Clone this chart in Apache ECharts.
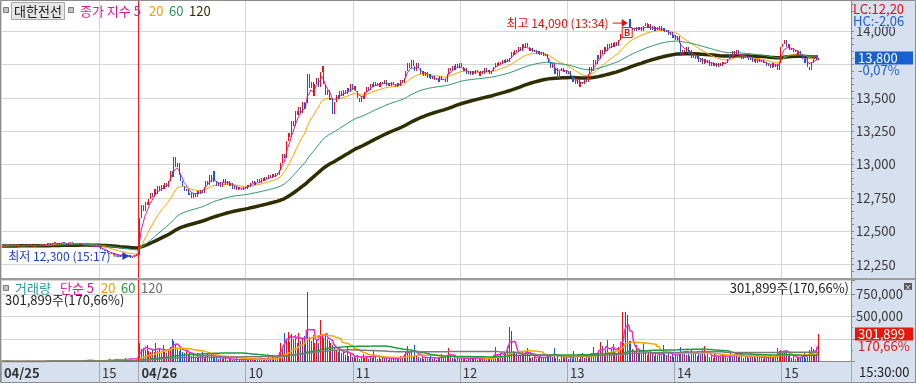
<!DOCTYPE html>
<html><head><meta charset="utf-8">
<script src="https://cdn.jsdelivr.net/npm/echarts@6/dist/echarts.min.js"></script>
<style>html,body{margin:0;padding:0;background:#fff}#c{width:916px;height:383px}</style>
</head><body><div id="c"></div>
<script>
// ---------------- DATA (1-minute bars) ----------------
const stockName = '대한전선';
const day1 = '04/25', day2 = '04/26';
// 04/25 14:05 .. 15:20, then 15:30 closing bar
const closes0425 = [
12390,12400,12390,12390,12400,12390,12400,12400,12390,12390,
12400,12390,12390,12400,12400,12390,12400,12390,12390,12400,
12390,12400,12400,12390,12400,12410,12410,12400,12410,12420,
12410,12400,12410,12410,12420,12410,12400,12410,12420,12410,
12400,12410,12410,12400,12410,12400,12390,12400,12390,12380,
12390,12390,12380,12390,12380,12370,12360,12350,12360,12340,
12330,12340,12320,12330,12320,12310,12320,12330,12310,12320,
12310,12320,12300,12310,12320,12330,12320];
// 04/26 09:00 .. 15:20
const closes0426 = [
12600,12700,12650,12720,12700,12740,12790,12760,12820,12780,
12840,12800,12850,12820,12860,12830,12880,12950,12910,13060,
12980,13010,12920,12880,12840,12800,12820,12770,12790,12750,
12790,12760,12800,12780,12810,12790,12830,12880,12850,12920,
12870,12950,12880,12840,12870,12830,12860,12890,12850,12880,
12840,12860,12820,12840,12810,12830,12820,12810,12830,12820,
12850,12830,12860,12880,12850,12870,12890,12860,12900,12880,
12910,12890,12920,12900,12930,12910,12940,12920,12960,13010,
13080,13050,13180,13240,13210,13330,13290,13400,13370,13430,
13390,13470,13420,13460,13680,13570,13620,13510,13600,13650,
13580,13690,13740,13600,13520,13560,13480,13500,13380,13470,
13520,13490,13550,13510,13560,13530,13570,13540,13600,13560,
13590,13550,13500,13470,13510,13490,13540,13580,13560,13600,
13580,13620,13590,13610,13580,13620,13600,13630,13590,13610,
13590,13620,13600,13580,13610,13590,13630,13610,13650,13700,
13760,13720,13780,13740,13700,13760,13720,13680,13700,13660,
13690,13650,13680,13640,13660,13630,13650,13620,13660,13630,
13640,13620,13680,13720,13700,13740,13710,13750,13720,13760,
13730,13700,13720,13680,13700,13670,13700,13680,13710,13690,
13660,13700,13680,13720,13690,13710,13680,13700,13730,13760,
13740,13770,13750,13780,13760,13790,13770,13800,13840,13820,
13860,13840,13880,13850,13900,13870,13910,13880,13850,13870,
13840,13860,13830,13850,13820,13840,13810,13830,13790,13760,
13720,13760,13680,13720,13650,13700,13720,13690,13710,13680,
13700,13660,13620,13650,13600,13640,13580,13620,13600,13640,
13620,13680,13730,13700,13780,13750,13820,13790,13860,13830,
13880,13850,13900,13870,13910,13880,13920,13890,13930,13980,
14010,13990,14020,14000,14090,14010,14020,14000,14030,14010,
14030,14000,14040,14060,14020,14050,14010,14040,14000,14030,
14010,14040,14000,14020,13990,14010,13970,13990,13950,13970,
13930,13960,13910,13820,13860,13840,13880,13830,13860,13800,
13830,13790,13820,13770,13800,13750,13790,13760,13780,13740,
13770,13740,13760,13730,13760,13740,13770,13750,13760,13790,
13820,13800,13850,13820,13860,13830,13810,13790,13820,13800,
13810,13780,13800,13770,13790,13760,13790,13770,13780,13760,
13770,13740,13750,13720,13760,13730,13750,13710,13760,13880,
13900,13930,13880,13900,13860,13870,13840,13860,13820,13850,
13830,13790,13760,13800,13730,13710,13760,13790,13810,13780,
13800];
const volumes0425 = [
2000,0,1000,3000,0,1000,2000,0,1000,1000,
0,2000,1000,0,3000,1000,0,2000,1000,0,
1000,3000,0,2000,1000,4000,8000,3000,5000,2000,
1000,3000,2000,6000,1000,2000,4000,1000,3000,2000,
1000,2000,3000,1000,5000,2000,12000,20000,18000,15000,
6000,3000,2000,5000,4000,6000,15000,10000,8000,12000,
25000,18000,10000,22000,30000,15000,20000,12000,25000,35000,
18000,28000,40000,22000,30000,30000,70000];
const volumes0426 = [
205000,140000,150000,130000,185000,120000,110000,130000,100000,205000,
120000,150000,90000,180000,110000,95000,140000,160000,250000,225000,
180000,150000,120000,170000,110000,90000,130000,80000,100000,60000,
75000,50000,90000,45000,60000,100000,40000,70000,80000,55000,
90000,60000,40000,50000,30000,70000,25000,45000,35000,20000,
40000,30000,15000,25000,35000,10000,20000,30000,15000,25000,
40000,20000,30000,15000,35000,25000,20000,40000,30000,20000,
35000,25000,45000,30000,50000,25000,40000,60000,110000,200000,
160000,315000,240000,330000,220000,310000,250000,290000,200000,320000,
230000,260000,280000,200000,772000,270000,230000,290000,210000,240000,
200000,460000,300000,260000,290000,250000,230000,200000,180000,150000,
130000,110000,140000,90000,100000,70000,160000,60000,80000,50000,
60000,40000,70000,30000,50000,80000,40000,60000,30000,50000,
40000,120000,50000,30000,45000,25000,60000,35000,40000,20000,
35000,50000,25000,40000,30000,45000,60000,40000,80000,110000,
175000,90000,120000,60000,180000,70000,50000,40000,60000,30000,
50000,25000,40000,60000,30000,45000,20000,35000,50000,80000,
40000,60000,70000,145000,50000,40000,60000,30000,45000,25000,
40000,30000,50000,20000,35000,45000,25000,40000,30000,20000,
35000,25000,45000,30000,20000,40000,50000,30000,60000,165000,
70000,50000,90000,60000,110000,80000,170000,385000,340000,120000,
90000,110000,70000,60000,100000,80000,120000,145000,60000,40000,
50000,70000,30000,45000,60000,35000,50000,40000,70000,60000,
80000,50000,145000,40000,60000,30000,50000,70000,40000,60000,
30000,50000,25000,115000,40000,55000,30000,60000,95000,40000,
50000,70000,45000,90000,160000,60000,80000,110000,215000,170000,
90000,130000,240000,100000,150000,190000,120000,90000,160000,130000,
550000,200000,555000,515000,230000,225000,140000,110000,180000,90000,
120000,80000,200000,110000,70000,100000,130000,80000,60000,100000,
70000,90000,60000,180000,80000,70000,110000,60000,90000,50000,
80000,60000,100000,165000,90000,120000,70000,110000,60000,140000,
80000,100000,60000,90000,70000,125000,175000,60000,80000,50000,
70000,40000,90000,55000,60000,45000,80000,50000,65000,40000,
60000,90000,50000,70000,100000,45000,60000,80000,40000,50000,
70000,40000,110000,50000,60000,35000,75000,45000,55000,30000,
60000,40000,50000,70000,35000,55000,45000,150000,120000,130000,
110000,95000,130000,80000,70000,40000,60000,30000,50000,45000,
35000,60000,110000,40000,50000,130000,165000,140000,60000,150000,
301899];
const priceTicks = [12250,12500,12750,13000,13250,13500,13750,14000];
const volumeTicks = [500000,750000];
const maPeriods = [5,20,60,120];
const lastChangeText = '-0,07%';
const volRatioText = '170,66%';
const clockText = '15:30:00';

// ---------------- BUILD ----------------
const FONT = '"Noto Sans CJK KR","Noto Sans",sans-serif';
const pad2 = n => (n < 10 ? '0' : '') + n;
const hhmm = t => pad2(Math.floor(t / 60)) + ':' + pad2(t % 60);
const categories = [];
closes0425.forEach((_, k) => {
  const t = k === closes0425.length - 1 ? 15 * 60 + 30 : 14 * 60 + 5 + k;
  categories.push(day1 + ' ' + hhmm(t));
});
closes0426.forEach((_, k) => categories.push(day2 + ' ' + hhmm(9 * 60 + k)));
const nData = categories.length;
for (let k = 0; k < 18; k++) categories.push('pad' + k);
const dayStartIdx = closes0425.length;

const closes = closes0425.concat(closes0426);
const volumes = volumes0425.concat(volumes0426);
// [index, open, close, low, high]
const candles = closes.map((c, i) => {
  const o = i === 0 ? c : closes[i - 1];
  return [i, o, c, Math.min(o, c), Math.max(o, c)];
});
const upFlags = candles.map(d => d[2] >= d[1]);
// price: exponential MA (종가 지수), volume: simple MA (단순)
function expAvg(arr, n) {
  const a = 2 / (n + 1); let e = arr[0];
  return arr.map((v, i) => { if (i > 0) e = e + a * (v - e); return +e.toFixed(2); });
}
function movingAvg(arr, n) {
  return arr.map((_, i) => {
    const s = Math.max(0, i - n + 1); let sum = 0;
    for (let j = s; j <= i; j++) sum += arr[j];
    return +(sum / (i - s + 1)).toFixed(2);
  });
}
const fmtNum = v => Math.round(v).toLocaleString('en-US');
const isMark = (index, value) => {
  if (index === 0) return true;
  return typeof value === 'string' && / \d\d:00$/.test(value);
};
const fmtX = (value, index) => {
  if (index === 0) return '{b|' + value.split(' ')[0] + '}';
  const p = value.split(' ');
  if (p.length < 2) return '';
  if (p[1] === '09:00') return '{b|' + p[0] + '}';
  return String(parseInt(p[1].slice(0, 2), 10));
};

const RED = '#f01010', BLUE = '#1458e0';
const priceMAColors = ['#e01fb0', '#ffa200', '#2f9a6a', '#2e2e00'];
const priceMAWidths = [1, 1, 1, 3.5];
const volMAColors = ['#e52fc8', '#f5a800', '#1f9a3a', '#7a7a7a'];

// crisp 1px candle: line from high to low at the band centre
function renderCandle(params, api) {
  const i = api.value(0), o = api.value(1), c = api.value(2), l = api.value(3), h = api.value(4);
  const x = Math.round(api.coord([i, c])[0]) + 0.5;
  const yh = Math.round(api.coord([i, h])[1]);
  const yl = Math.round(api.coord([i, l])[1]);
  return { type: 'line', silent: true, shape: { x1: x, y1: yh, x2: x, y2: Math.max(yl, yh + 1) },
    style: { stroke: c >= o ? RED : BLUE, lineWidth: 1 } };
}
function renderVolume(params, api) {
  const i = api.value(0), v = api.value(1);
  const x = Math.round(api.coord([i, v])[0]) + 0.5;
  const y0 = Math.round(api.coord([i, 0])[1]);
  const y1 = Math.round(api.coord([i, v])[1]);
  return { type: 'line', silent: true, shape: { x1: x, y1: Math.min(y1, y0 - 1), x2: x, y2: y0 },
    style: { stroke: upFlags[i] ? RED : BLUE, lineWidth: 1 } };
}

const series = [{
  type: 'custom', xAxisIndex: 0, yAxisIndex: 0, data: candles, renderItem: renderCandle, silent: true, z: 6,
  encode: { x: 0, y: [1, 2, 3, 4] },
  markLine: { silent: true, symbol: 'none', z: 1, label: { show: false }, animation: false,
    lineStyle: { color: '#d6d6d6', width: 1, type: 'solid' },
    data: priceTicks.map(v => ({ yAxis: v })) }
}];
maPeriods.forEach((p, k) => series.push({
  type: 'line', xAxisIndex: 0, yAxisIndex: 0, data: expAvg(closes, p), showSymbol: false, silent: true, z: k === 3 ? 3 : 4,
  lineStyle: { color: priceMAColors[k], width: priceMAWidths[k] }
}));
series.push({
  type: 'custom', xAxisIndex: 1, yAxisIndex: 1, silent: true, z: 2, renderItem: renderVolume,
  data: volumes.map((v, i) => [i, v]), encode: { x: 0, y: 1 }
});
maPeriods.forEach((p, k) => series.push({
  type: 'line', xAxisIndex: 1, yAxisIndex: 1, data: movingAvg(volumes, p), showSymbol: false, silent: true, step: 'middle', z: 3,
  lineStyle: { color: volMAColors[k], width: 1.5 }
}));

const option = {
  animation: false,
  backgroundColor: '#d6e0ee',
  textStyle: { fontFamily: FONT },
  grid: [
    { left: 1, right: 65, top: 0, height: 278, show: true, backgroundColor: '#fff', borderWidth: 0 },
    { left: 1, right: 65, top: 280, height: 81.5, show: true, backgroundColor: '#fff', borderWidth: 0 }
  ],
  xAxis: [
    { gridIndex: 0, type: 'category', data: categories, boundaryGap: true,
      axisLine: { show: false }, axisTick: { show: false }, axisLabel: { show: false },
      splitLine: { show: true, interval: isMark, lineStyle: { color: '#d6d6d6' } } },
    { gridIndex: 1, type: 'category', data: categories, boundaryGap: true,
      axisLine: { show: true, lineStyle: { color: '#8a8a8a' } },
      axisTick: { show: true, interval: isMark, length: 21, lineStyle: { color: '#a8a8a8' } },
      axisLabel: { show: true, interval: isMark, formatter: fmtX, align: 'left', margin: 5, color: '#333', fontSize: 13, fontFamily: FONT,
        padding: [0, 0, 0, 2], rich: { b: { fontWeight: 'bold', fontSize: 13, color: '#333', fontFamily: FONT } } },
      splitLine: { show: true, interval: isMark, lineStyle: { color: '#d6d6d6' } } }
  ],
  yAxis: [
    { gridIndex: 0, type: 'value', position: 'right', min: 12150, max: 14233, interval: 50,
      axisLine: { show: true, lineStyle: { color: '#8a8a8a' } },
      axisTick: { show: true, length: 3, lineStyle: { color: '#8a8a8a' } },
      axisLabel: { color: '#3a3a3a', fontSize: 13, margin: 5, fontFamily: FONT,
        formatter: v => (priceTicks.indexOf(v) >= 0 && v !== 13750) ? fmtNum(v) : '' },
      splitLine: { show: false } },
    { gridIndex: 1, type: 'value', position: 'right', min: 0, max: 905000, interval: 250000,
      axisLine: { show: true, lineStyle: { color: '#8a8a8a' } },
      axisTick: { show: true, length: 4, lineStyle: { color: '#8a8a8a' } },
      minorTick: { show: true, splitNumber: 2, length: 2, lineStyle: { color: '#8a8a8a' } },
      axisLabel: { color: '#3a3a3a', fontSize: 13, margin: 5, fontFamily: FONT,
        formatter: v => volumeTicks.indexOf(v) >= 0 ? fmtNum(v) : '' },
      splitLine: { show: true, lineStyle: { color: '#d6d6d6' } } }
  ],
  series: series
};

const chart = echarts.init(document.getElementById('c'));
chart.setOption(option);

// ---------------- OVERLAYS ----------------
const G = [];
const txt = (x, y, text, fill, o) => {
  o = o || {};
  G.push({ type: 'text', z: 100, silent: true, style: Object.assign({ x: x, y: y, text: text, fill: fill,
    font: (o.bold ? 'bold ' : '') + (o.size || 12) + 'px ' + FONT, textAlign: o.align || 'left', textVerticalAlign: 'middle' }, o.style || {}) });
};
const rect = (x, y, w, h, fill, stroke) => G.push({ type: 'rect', z: 99, silent: true, shape: { x: x, y: y, width: w, height: h },
  style: { fill: fill, stroke: stroke || null, lineWidth: 1 } });

// day separator (between last 04/25 bar and first 04/26 bar)
const dx = (chart.convertToPixel({ xAxisIndex: 0 }, dayStartIdx - 1) + chart.convertToPixel({ xAxisIndex: 0 }, dayStartIdx)) / 2;
const dxr = Math.floor(dx) + 0.5;
G.push({ type: 'line', z: 98, silent: true, shape: { x1: dxr, y1: 0, x2: dxr, y2: 278 }, style: { stroke: '#ff1a1a', lineWidth: 1 } });
G.push({ type: 'line', z: 98, silent: true, shape: { x1: dxr, y1: 280, x2: dxr, y2: 361 }, style: { stroke: '#ff1a1a', lineWidth: 1 } });

// frame + pane separator
rect(0, 278, 916, 2, '#9c9c9c');
G.push({ type: 'rect', z: 101, silent: true, shape: { x: 0.5, y: 0.5, width: 915, height: 382 }, style: { fill: 'none', stroke: '#8c8c8c', lineWidth: 1 } });

// price legend
rect(3.5, 7.5, 5, 5, '#c4c4c4', '#7a7a7a');
rect(11.5, 2.5, 53, 17, '#e6e6e6', '#a9a9a9');
txt(38, 11.5, stockName, '#1a1a1a', { size: 13, align: 'center' });
rect(68.5, 7.5, 5, 5, '#c4c4c4', '#7a7a7a');
txt(80, 11.5, '종가 지수 5', '#e5199f', { size: 13 });
txt(149, 11.5, '20', '#f5a000', { size: 13 });
txt(169, 11.5, '60', '#25955d', { size: 13 });
txt(189, 11.5, '120', '#2e2e00', { size: 13 });

// volume legend
const lastVol = volumes[nData - 1];
rect(3.5, 285.5, 5, 5, '#c4c4c4', '#7a7a7a');
txt(15, 288, '거래량', '#2b9b9b', { size: 13 });
txt(60, 288, '단순 5', '#e5199f', { size: 13 });
txt(101, 288, '20', '#f5a000', { size: 13 });
txt(121, 288, '60', '#1f9a3a', { size: 13 });
txt(141, 288, '120', '#6a6a6a', { size: 13 });
txt(5, 300, fmtNum(lastVol) + '주(' + volRatioText + ')', '#222', { size: 13 });
txt(849, 288, fmtNum(lastVol) + '주(' + volRatioText + ')', '#222', { size: 13, align: 'right' });

// right-strip labels
const lastClose = closes[nData - 1];
let hiIdx = 0, loIdx = 0;
closes.forEach((c, i) => { if (c > closes[hiIdx]) hiIdx = i; if (c < closes[loIdx]) loIdx = i; });
const hiVal = closes[hiIdx], loVal = closes[loIdx];
const pctTxt = v => v.toFixed(2).replace('.', ',');
txt(853, 9, 'LC:' + pctTxt((lastClose / loVal - 1) * 100), '#e01010', { size: 13 });
rect(852, 15, 63, 12, '#d6e0ee');
txt(853, 21, 'HC:' + pctTxt((lastClose / hiVal - 1) * 100), '#1f5fd0', { size: 13 });

const cy = chart.convertToPixel({ yAxisIndex: 0 }, lastClose);
rect(855, Math.round(cy) - 6.5, 58, 13, '#1660d2');
txt(858, Math.round(cy), fmtNum(lastClose), '#ffffff', { size: 13 });
txt(858, Math.round(cy) + 12, lastChangeText, '#1f5fd0', { size: 13 });

const vy = chart.convertToPixel({ yAxisIndex: 1 }, lastVol);
rect(855, Math.round(vy) - 6.5, 58, 13, '#e8170c');
txt(858, Math.round(vy), fmtNum(lastVol), '#ffffff', { size: 13 });
txt(858, Math.round(vy) + 12, volRatioText, '#e8170c', { size: 13 });

rect(904, 283, 8, 7, '#555');
txt(908, 286.5, '×', '#fff', { size: 8, align: 'center' });
txt(859, 372, clockText, '#222', { size: 13 });

// high / low annotations
const hp = chart.convertToPixel({ xAxisIndex: 0, yAxisIndex: 0 }, [hiIdx, hiVal]);
const lp = chart.convertToPixel({ xAxisIndex: 0, yAxisIndex: 0 }, [loIdx, loVal]);
const timeOf = i => categories[i].split(' ')[1];
const ay = hp[1] + 4;
txt(hp[0] - 20, ay, '최고 ' + fmtNum(hiVal) + ' (' + timeOf(hiIdx) + ')', '#e01010', { size: 12, align: 'right' });
G.push({ type: 'line', z: 100, silent: true, shape: { x1: hp[0] - 16, y1: ay, x2: hp[0] - 6, y2: ay }, style: { stroke: '#e01010', lineWidth: 1 } });
G.push({ type: 'polygon', z: 100, silent: true, shape: { points: [[hp[0] - 7, ay - 4], [hp[0] - 1, ay], [hp[0] - 7, ay + 4]] }, style: { fill: '#e01010' } });
G.push({ type: 'rect', z: 100, silent: true, shape: { x: hp[0] - 6.5, y: hp[1] + 8.5, width: 10, height: 10 }, style: { fill: '#fff', stroke: '#e01010', lineWidth: 1 } });
txt(hp[0] - 1.5, hp[1] + 13.5, 'B', '#e01010', { size: 9, bold: true, align: 'center' });

const by = lp[1] - 2;
txt(lp[0] - 20, by, '최저 ' + fmtNum(loVal) + ' (' + timeOf(loIdx) + ')', '#1a3fd0', { size: 12, align: 'right' });
G.push({ type: 'line', z: 100, silent: true, shape: { x1: lp[0] - 17, y1: by, x2: lp[0] - 6, y2: by }, style: { stroke: '#1a3fd0', lineWidth: 1 } });
G.push({ type: 'polygon', z: 100, silent: true, shape: { points: [[lp[0] - 8, by - 4], [lp[0] - 1, by], [lp[0] - 8, by + 4]] }, style: { fill: '#1a3fd0' } });

chart.setOption({ graphic: G });
</script>
</body></html>
